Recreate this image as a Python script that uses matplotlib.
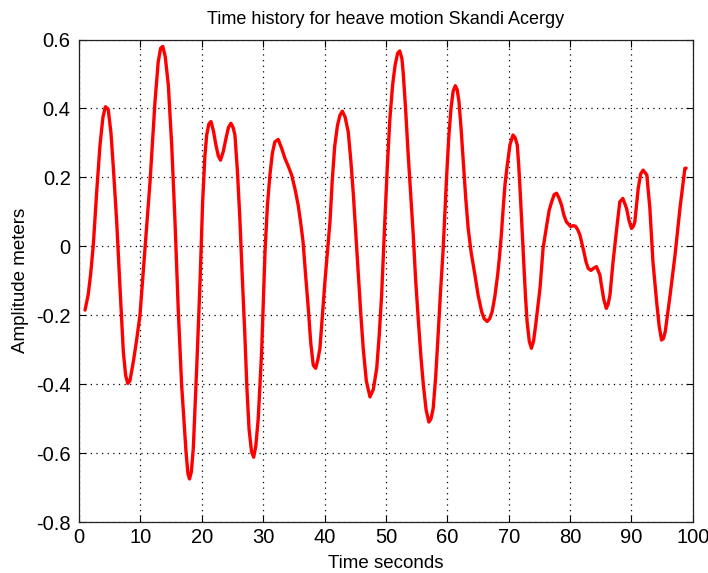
import matplotlib
matplotlib.use("Agg")
import matplotlib.pyplot as plt

# Heave time history, time in seconds
time_s = [
    0.98, 1.5, 1.9, 2.33, 2.88, 3.42, 3.9, 4.3, 4.75, 5.2, 5.6, 6.14, 6.68, 7.22, 7.6, 7.95,
    8.3, 8.85, 9.4, 9.93, 10.35, 10.75, 11.57, 12.38, 12.9, 13.3, 13.65, 14.05, 14.55,
    15.1, 15.64, 16.18, 16.72, 17.43, 17.75, 18.0, 18.3, 18.62, 19.17, 19.7, 20.14,
    20.5, 20.8, 21.15, 21.5, 21.9, 22.3, 22.7, 23.05, 23.5, 23.94, 24.35, 24.75, 25.1,
    25.4, 25.8, 26.2, 26.6, 27.0, 27.35, 27.7, 28.1, 28.45, 28.8, 29.2, 29.75, 30.3,
    30.7, 31.1, 31.5, 31.9, 32.45, 33.0, 33.55, 34.1, 34.64, 35.2, 35.7, 36.1, 36.5,
    36.9, 37.35, 37.75, 38.16, 38.55, 38.9, 39.25, 39.65, 40.06, 40.5, 40.9, 41.25,
    41.65, 42.1, 42.5, 42.9, 43.35, 43.86, 44.3, 44.7, 45.1, 45.5, 45.9, 46.3, 46.8,
    47.4, 47.95, 48.5, 48.9, 49.3, 49.84, 50.25, 50.65, 51.1, 51.5, 51.9, 52.25, 52.6,
    52.8, 53.2, 53.6, 54.0, 54.45, 54.85, 55.3, 55.7, 56.1, 56.55, 57.0, 57.35, 57.7,
    58.1, 58.5, 58.9, 59.3, 59.9, 60.25, 60.6, 60.95, 61.3, 61.6, 61.9, 62.25, 62.6,
    63.0, 63.4, 63.9, 64.5, 65.0, 65.6, 66.0, 66.5, 66.9, 67.3, 67.75, 68.2, 68.5,
    68.8, 69.1, 69.4, 69.7, 70.2, 70.7, 71.05, 71.4, 71.65, 71.9, 72.2, 72.5, 72.75,
    73.0, 73.35, 73.7, 74.05, 74.4, 75.1, 75.6, 76.2, 76.6, 77.0, 77.4, 77.8, 78.2,
    78.6, 79.0, 79.4, 80.1, 80.5, 80.9, 81.25, 81.6, 82.25, 82.6, 82.95, 83.4, 83.8,
    84.3, 84.85, 85.1, 85.5, 85.9, 86.2, 86.5, 87.0, 87.6, 88.1, 88.6, 89.2, 89.6,
    90.0, 90.3, 90.55, 91.1, 91.5, 91.9, 92.5, 93.0, 93.5, 94.1, 94.5, 94.9, 95.2,
    95.5, 96.3, 97.1, 97.9, 98.7, 98.9,
]

# Heave amplitude, metres
heave_m = [
    -0.185, -0.14, -0.08, 0.004, 0.158, 0.294, 0.375, 0.405, 0.398, 0.33, 0.227, 0.071, -0.121,
    -0.306, -0.375, -0.398, -0.39, -0.335, -0.27, -0.2, -0.1, -0.005, 0.187, 0.42, 0.535,
    0.575, 0.58, 0.55, 0.468, 0.294, 0.071, -0.19, -0.403, -0.596, -0.66, -0.675, -0.655,
    -0.586, -0.354, -0.112, 0.129, 0.26, 0.323, 0.355, 0.362, 0.335, 0.294, 0.262, 0.25,
    0.275, 0.313, 0.345, 0.357, 0.345, 0.323, 0.22, 0.082, -0.09, -0.25, -0.41, -0.53,
    -0.595, -0.612, -0.58, -0.499, -0.306, -0.016, 0.12, 0.207, 0.27, 0.303, 0.31, 0.285,
    0.255, 0.232, 0.207, 0.165, 0.12, 0.07, 0.013, -0.08, -0.18, -0.28, -0.345, -0.354,
    -0.33, -0.296, -0.2, -0.103, -0.01, 0.075, 0.19, 0.29, 0.35, 0.38, 0.392, 0.375,
    0.332, 0.245, 0.149, 0.035, -0.083, -0.195, -0.296, -0.39, -0.437, -0.415, -0.354,
    -0.26, -0.141, 0.081, 0.24, 0.371, 0.47, 0.526, 0.56, 0.567, 0.545, 0.507, 0.4,
    0.274, 0.16, 0.033, -0.1, -0.22, -0.32, -0.403, -0.475, -0.51, -0.5, -0.47, -0.38,
    -0.258, -0.13, -0.016, 0.207, 0.32, 0.4, 0.45, 0.466, 0.455, 0.42, 0.34, 0.245,
    0.14, 0.052, -0.02, -0.083, -0.14, -0.19, -0.21, -0.218, -0.21, -0.19, -0.145,
    -0.083, -0.03, 0.033, 0.11, 0.18, 0.226, 0.294, 0.323, 0.315, 0.294, 0.23, 0.149,
    0.04, -0.064, -0.15, -0.219, -0.275, -0.296, -0.275, -0.228, -0.122, -0.006, 0.062,
    0.105, 0.129, 0.15, 0.154, 0.14, 0.12, 0.09, 0.071, 0.057, 0.06, 0.058, 0.048,
    0.033, -0.016, -0.045, -0.064, -0.07, -0.064, -0.059, -0.083, -0.112, -0.155,
    -0.18, -0.168, -0.141, -0.045, 0.052, 0.129, 0.139, 0.11, 0.075, 0.052, 0.058,
    0.071, 0.168, 0.21, 0.221, 0.207, 0.11, -0.045, -0.161, -0.23, -0.272, -0.268,
    -0.248, -0.141, -0.025, 0.11, 0.226, 0.227,
]

x_ticks = [0, 10, 20, 30, 40, 50, 60, 70, 80, 90, 100]
y_ticks = [-0.8, -0.6, -0.4, -0.2, 0, 0.2, 0.4, 0.6]
y_tick_labels = ["-0.8", "-0.6", "-0.4", "-0.2", "0", "0.2", "0.4", "0.6"]

plt.rcParams["font.family"] = ["Liberation Sans", "DejaVu Sans"]

fig = plt.figure(figsize=(7.08, 5.73), dpi=100, facecolor="white")
ax = fig.add_axes([0.1116, 0.089, 0.867, 0.842])

ax.plot(time_s, heave_m, color="#ff0000", linewidth=2.4,
        solid_joinstyle="round", solid_capstyle="round")

ax.set_xlim(0, 100)
ax.set_ylim(-0.8, 0.6)
ax.set_xticks(x_ticks)
ax.set_yticks(y_ticks)
ax.set_yticklabels(y_tick_labels)

ax.grid(True, color="black", linestyle=(0, (1, 3.5)), linewidth=0.9)
ax.tick_params(direction="in", length=5, width=0.8, top=True, right=True,
               labelsize=14.5, colors="black", pad=4)
ax.tick_params(axis="y", pad=6)
for spine in ax.spines.values():
    spine.set_linewidth(0.9)
    spine.set_color("#222222")

ax.set_title("Time history for heave motion Skandi Acergy", fontsize=13, pad=11)
ax.set_xlabel("Time seconds", fontsize=13.5, labelpad=6)
ax.set_ylabel("Amplitude meters", fontsize=13.5, labelpad=5)

fig.savefig("out.png", dpi=100, facecolor="white")
